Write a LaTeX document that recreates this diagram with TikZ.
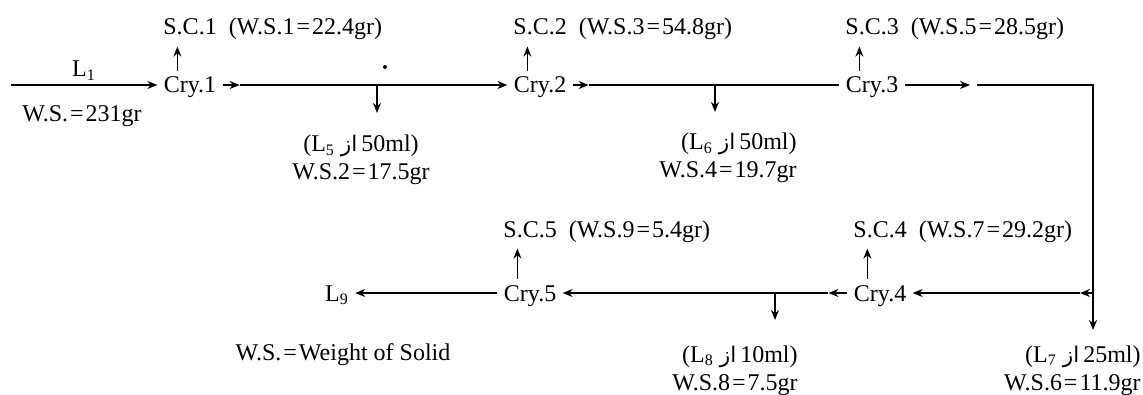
\documentclass[tikz,border=0pt]{standalone}
\usepackage{fontspec}
\setmainfont{Liberation Serif}
\newfontfamily\arabicfont[Script=Arabic,Scale=0.9]{DejaVu Sans}
\TeXXeTstate=1
\usetikzlibrary{arrows.meta}

\newcommand{\az}{{\arabicfont\beginR از\endR}}
\newcommand{\eqs}{\kern1pt=\kern1pt}

\begin{document}
\begin{tikzpicture}[x=0.5pt, y=-0.5pt,
    every node/.style={font=\fontsize{12}{13.5}\selectfont},
    cry/.style={inner sep=3pt, text height=8pt, text depth=0pt},
    sclabel/.style={anchor=base west, inner sep=3pt},
    note/.style={inner sep=0pt},
    flow/.style={line width=0.7pt, -{Stealth[length=5pt, width=4pt]}},
    pipe/.style={line width=0.7pt}]

    \useasboundingbox (0,0) rectangle (1143,395);

    % Crystallisation stages
    \foreach \n/\x/\y in {1/190/85, 2/540/85, 3/872/85, 4/880/293, 5/530/293}
        \node[cry] (cry\n) at (\x,\y) {Cry.\n};

    % Solid crops
    \foreach \n/\x/\y/\ws in {1/157/35/1\eqs 22.4, 2/507/35/3\eqs 54.8, 3/839/35/5\eqs 28.5,
                              4/847/237/7\eqs 29.2, 5/497/237/9\eqs 5.4}
        \node[sclabel] (sc\n) at (\x,\y) {S.C.\n\ \ (W.S.\ws gr)};

    \foreach \n in {1,...,5}
        \draw[flow] ([xshift=10pt]cry\n.north west) -- ([xshift=10pt]cry\n.north west |- sc\n.south);

    % Feed
    \coordinate (feed) at (11,85);
    \node[note, anchor=base] (l1) at (84,77) {L\textsubscript{1}};
    \node[note, anchor=base] (ws0) at (82,122) {W.S.\eqs 231gr};
    \draw[flow] (feed) -- (cry1.west);

    % Upper line
    \draw[flow] (cry1.east) -- ++(17,0) coordinate (m1);
    \draw[flow] (m1) -- (cry2.west);
    \draw[flow] (cry2.east) -- ++(16,0) coordinate (m2);
    \draw[pipe] (m2) -- (cry3.west);
    \coordinate (t3) at (970,85);
    \coordinate (s3) at (977,85);
    \coordinate (k1) at (1093,85);
    \coordinate (k2) at (1093,293);
    \coordinate (d7) at (1093,330);
    \draw[flow] (cry3.east) -- (t3);
    \draw[pipe] (s3) -- (k1) -- (k2);
    \draw[flow] (k2) -- (d7);

    % Mother liquors taken off
    \foreach \bn/\bx/\by/\be in {1/377/85/113, 2/715/85/112, 4/775/293/320} {
        \coordinate (b\bn) at (\bx,\by);
        \coordinate (d\bn) at (\bx,\be);
        \draw[flow] (b\bn) -- (d\bn);
    }

    % Lower line
    \draw[flow] (k2) -- ++(-13,0) coordinate (m4);
    \draw[flow] (m4) -- (cry4.east);
    \draw[flow] (cry4.west) -- ++(-19,0) coordinate (m5);
    \draw[flow] (m5) -- (cry5.east);
    \node[cry] (l9) at (337,293) {L\textsubscript{9}};
    \draw[flow] (cry5.west) -- (l9.east);

    % Labels
    \node[note, anchor=base] (l5) at (361,152) {(L\textsubscript{5}\ \az\,50ml)};
    \node[note, anchor=base] (ws2) at (361,179) {W.S.2\eqs 17.5gr};
    \node[note, anchor=base east] (l6) at (797,150) {(L\textsubscript{6}\ \az\,50ml)};
    \node[note, anchor=base east] (ws4) at (797,177) {W.S.4\eqs 19.7gr};
    \node[note, anchor=base east] (l8) at (798,362) {(L\textsubscript{8}\ \az\,10ml)};
    \node[note, anchor=base east] (ws8) at (798,390) {W.S.8\eqs 7.5gr};
    \node[note, anchor=base east] (l7) at (1141,362) {(L\textsubscript{7}\ \az\,25ml)};
    \node[note, anchor=base east] (ws6) at (1141,390) {W.S.6\eqs 11.9gr};
    \node[note, anchor=base] (key) at (343,360) {W.S.\eqs Weight of Solid};

    \fill (385,67) circle (1pt);
\end{tikzpicture}
\end{document}
